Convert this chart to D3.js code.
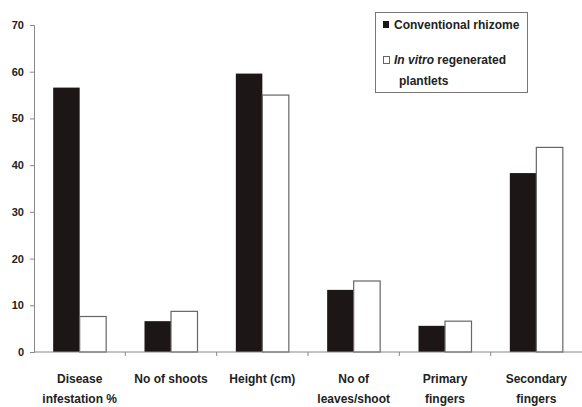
<!DOCTYPE html>
<html lang="en">
<head>
<meta charset="utf-8">
<title>Rhizome vs plantlets</title>
<script type="text/javascript" src="https://cdn.jsdelivr.net/npm/d3@7"></script>
<style>
  body { margin: 0; background: #fff; }
  text { font-family: "Liberation Sans", Arial, sans-serif; font-weight: bold; fill: #222; }
</style>
</head>
<body>
<div id="bod"></div>
<script type="text/javascript">
  let categories = [["Disease", "infestation %"], ["No of shoots"], ["Height (cm)"],
                    ["No of", "leaves/shoot"], ["Primary", "fingers"], ["Secondary", "fingers"]]
  let conventional = [56.6, 6.6, 59.6, 13.3, 5.6, 38.3]
  let inVitro = [7.6, 8.7, 55.0, 15.2, 6.6, 43.8]
  let yTicks = [0, 10, 20, 30, 40, 50, 60, 70]

  let w = 582
  let h = 407
  let mLeft = 34, mRight = 582, mTop = 25, mBottom = 352

  let svg = d3.select("#bod")
              .append("svg")
              .attr("width", w)
              .attr("height", h)

  let xScale = d3.scaleBand()
                 .domain(d3.range(categories.length))
                 .range([mLeft, mRight])

  let yScale = d3.scaleLinear()
                 .domain([0, 70])
                 .range([mBottom, mTop])

  let barW = 26.5

  // black bars
  svg.selectAll(".conv")
     .data(conventional)
     .enter().append("rect")
     .attr("class", "conv")
     .attr("x", function(d, i) { return xScale(i) + xScale.bandwidth() / 2 - barW; })
     .attr("y", function(d) { return yScale(d); })
     .attr("width", barW)
     .attr("height", function(d) { return mBottom - yScale(d); })
     .attr("fill", "#1c1616")

  // white bars
  svg.selectAll(".vitro")
     .data(inVitro)
     .enter().append("rect")
     .attr("class", "vitro")
     .attr("x", function(d, i) { return xScale(i) + xScale.bandwidth() / 2; })
     .attr("y", function(d) { return yScale(d); })
     .attr("width", barW)
     .attr("height", function(d) { return mBottom - yScale(d); })
     .attr("fill", "#fff")
     .attr("stroke", "#666")
     .attr("stroke-width", 1.2)

  let yAxis = d3.axisLeft()
                .scale(yScale)
                .tickValues(yTicks)
                .tickSize(4)
                .tickPadding(6)

  let gy = svg.append("g")
     .attr("transform", "translate(" + mLeft + ",0)")
     .call(yAxis)
  gy.selectAll("line, path").attr("stroke", "#888")
  gy.selectAll("text").style("font-size", "11px").attr("fill", "#222")

  // x axis line + boundary ticks
  let gx = svg.append("g")
  gx.append("line")
    .attr("x1", mLeft).attr("x2", mRight)
    .attr("y1", mBottom).attr("y2", mBottom)
    .attr("stroke", "#888")
  gx.selectAll(".tk")
    .data(d3.range(1, categories.length))
    .enter().append("line")
    .attr("x1", function(i) { return xScale(i); })
    .attr("x2", function(i) { return xScale(i); })
    .attr("y1", mBottom).attr("y2", mBottom + 4)
    .attr("stroke", "#888")

  let labels = gx.selectAll(".lab")
    .data(categories)
    .enter().append("text")
    .attr("text-anchor", "middle")
    .attr("y", 383)
    .style("font-size", "12px")
  labels.selectAll("tspan")
    .data(function(d, i) { return d.map(function(s) { return { s: s, i: i }; }); })
    .enter().append("tspan")
    .attr("x", function(d) { return xScale(d.i) + xScale.bandwidth() / 2; })
    .attr("dy", function(d, j) { return j === 0 ? 0 : 20; })
    .text(function(d) { return d.s; })

  // legend
  let lg = svg.append("g")
  lg.append("rect")
    .attr("x", 375.5).attr("y", 12.5)
    .attr("width", 152).attr("height", 80)
    .attr("fill", "#fff").attr("stroke", "#777")
  lg.append("rect")
    .attr("x", 383).attr("y", 21).attr("width", 6).attr("height", 7)
    .attr("fill", "#1c1616")
  lg.append("rect")
    .attr("x", 383.5).attr("y", 56.5).attr("width", 6).attr("height", 7)
    .attr("fill", "#fff").attr("stroke", "#666")
  lg.append("text")
    .attr("x", 394).attr("y", 29)
    .style("font-size", "12px")
    .text("Conventional rhizome")
  let t2 = lg.append("text")
    .attr("x", 394).attr("y", 64)
    .style("font-size", "12px")
  t2.append("tspan").style("font-style", "italic").text("In vitro")
  t2.append("tspan").text(" regenerated")
  lg.append("text")
    .attr("x", 399).attr("y", 85)
    .style("font-size", "12px")
    .text("plantlets")
</script>
</body>
</html>
